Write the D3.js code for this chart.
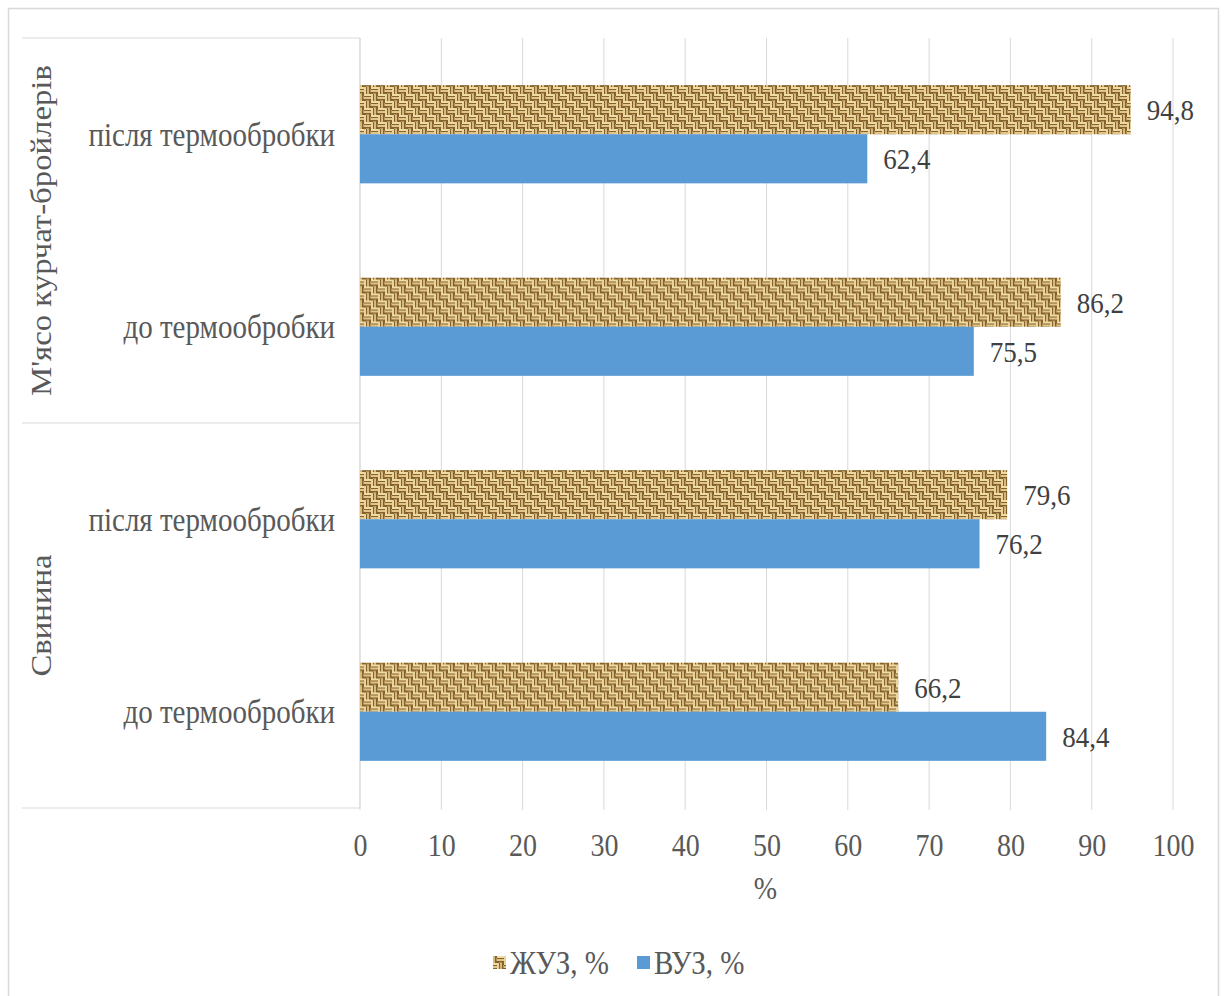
<!DOCTYPE html>
<html>
<head>
<meta charset="utf-8">
<script src="https://cdn.jsdelivr.net/npm/d3@7"></script>
<style>
  body { margin: 0; background: #fff; }
</style>
</head>
<body>
<svg id="chart" width="1227" height="996"></svg>
<script>
// chart data
const groups = ["М'ясо курчат-бройлерів", "Свинина"];
const categories = ["після термообробки", "до термообробки", "після термообробки", "до термообробки"];
const zhuz = [94.8, 86.2, 79.6, 66.2];   // ЖУЗ, %
const vuz = [62.4, 75.5, 76.2, 84.4];    // ВУЗ, %
const seriesNames = ["ЖУЗ, %", "ВУЗ, %"];
const xTicks = [0, 10, 20, 30, 40, 50, 60, 70, 80, 90, 100];

const FONT = "'Liberation Serif', 'Times New Roman', serif";
const STRETCH = 1.13;   // the original picture is a bit taller than wide

const svg = d3.select("#chart");

// stretch a text vertically around its own anchor point
function stretch(sel) {
    sel.attr("transform", function() {
        const yy = +d3.select(this).attr("y") || 0;
        return "translate(0," + yy + ") scale(1," + STRETCH + ") translate(0," + (-yy) + ")";
    });
}

// outer frame
svg.append("rect")
    .attr("x", 8.5).attr("y", 8.5)
    .attr("width", 1210).attr("height", 1000)
    .attr("fill", "none").attr("stroke", "#d9d9d9").attr("stroke-width", 1.5);

// woven texture for ЖУЗ bars (basket weave)
const defs = svg.append("defs");
const pat = defs.append("pattern")
    .attr("id", "weave")
    .attr("patternUnits", "userSpaceOnUse")
    .attr("width", 14).attr("height", 14);
pat.append("rect").attr("width", 14).attr("height", 14).attr("fill", "#83622d");
[[0, 0], [7, 7]].forEach(function(c) {
    pat.append("rect").attr("x", c[0]).attr("y", c[1]).attr("width", 7).attr("height", 2).attr("fill", "#f0dba4");
    pat.append("rect").attr("x", c[0]).attr("y", c[1] + 3).attr("width", 7).attr("height", 2).attr("fill", "#e2c689");
    pat.append("rect").attr("x", c[0] + 2).attr("y", c[1] + 6).attr("width", 3).attr("height", 1).attr("fill", "#b8955a");
});
[[7, 0], [0, 7]].forEach(function(c) {
    pat.append("rect").attr("x", c[0]).attr("y", c[1]).attr("width", 2).attr("height", 7).attr("fill", "#ead49c");
    pat.append("rect").attr("x", c[0] + 3).attr("y", c[1]).attr("width", 2).attr("height", 7).attr("fill", "#d6b97c");
    pat.append("rect").attr("x", c[0] + 6).attr("y", c[1] + 2).attr("width", 1).attr("height", 3).attr("fill", "#b8955a");
});

const margin = { left: 360, right: 1173, top: 38, bottom: 808 };

const x = d3.scaleLinear().domain([0, 100]).range([margin.left, margin.right]);
const y = d3.scaleBand().domain(d3.range(categories.length)).range([margin.top, margin.bottom]);
const inner = d3.scaleBand().domain([0, 1]).range([0, y.bandwidth()]).paddingOuter(0.96);

// vertical gridlines
svg.append("g")
    .selectAll("line")
    .data(xTicks)
    .enter()
    .append("line")
    .attr("x1", d => x(d)).attr("x2", d => x(d))
    .attr("y1", margin.top).attr("y2", margin.bottom + 2)
    .attr("stroke", "#d9d9d9").attr("stroke-width", 1);

// category box lines on the left
const boxG = svg.append("g").attr("stroke", "#d9d9d9").attr("stroke-width", 1);
[margin.top, y(2), margin.bottom].forEach(function(yy) {
    boxG.append("line").attr("x1", 22).attr("x2", margin.left).attr("y1", yy).attr("y2", yy);
});
boxG.append("line").attr("x1", margin.left).attr("x2", margin.left).attr("y1", margin.top).attr("y2", margin.bottom);

// x axis
const xAxis = svg.append("g")
    .attr("transform", "translate(0," + margin.bottom + ")")
    .call(d3.axisBottom(x).tickValues(xTicks).tickSize(0).tickPadding(37));
xAxis.select(".domain").remove();
xAxis.selectAll("text")
    .attr("dy", "0.35em")
    .style("font-family", FONT)
    .style("font-size", "28px")
    .style("fill", "#595959")
    .call(stretch);

svg.append("text")
    .attr("x", (margin.left + margin.right) / 2 - 1)
    .attr("y", 888)
    .attr("dy", "0.35em")
    .attr("text-anchor", "middle")
    .style("font-family", FONT)
    .style("font-size", "28px")
    .style("fill", "#595959")
    .text("%")
    .call(stretch);

// bars
const rows = categories.map(function(c, i) { return { i: i, vals: [zhuz[i], vuz[i]] }; });
const rowG = svg.append("g")
    .selectAll("g")
    .data(rows)
    .enter()
    .append("g")
    .attr("transform", d => "translate(0," + y(d.i) + ")");

rowG.selectAll("rect")
    .data(d => d.vals.map((v, k) => ({ v: v, k: k })))
    .enter()
    .append("rect")
    .attr("x", x(0))
    .attr("y", d => inner(d.k))
    .attr("width", d => x(d.v) - x(0))
    .attr("height", inner.bandwidth())
    .attr("fill", d => d.k === 0 ? "url(#weave)" : "#5b9bd5");

rowG.selectAll("text.val")
    .data(d => d.vals.map((v, k) => ({ v: v, k: k })))
    .enter()
    .append("text")
    .attr("class", "val")
    .attr("x", d => x(d.v) + 16)
    .attr("y", d => inner(d.k) + inner.bandwidth() / 2)
    .attr("dy", "0.35em")
    .style("font-family", FONT)
    .style("font-size", "27px")
    .style("fill", "#404040")
    .text(d => d3.format(".1f")(d.v).replace(".", ","))
    .call(stretch);

// category labels
svg.append("g")
    .selectAll("text")
    .data(categories)
    .enter()
    .append("text")
    .attr("x", 335)
    .attr("y", (d, i) => y(i) + y.bandwidth() / 2)
    .attr("dy", "0.35em")
    .attr("text-anchor", "end")
    .style("font-family", FONT)
    .style("font-size", "29px")
    .style("fill", "#595959")
    .text(d => d)
    .call(stretch);

// group labels (rotated, stretched along the page height)
svg.append("g")
    .selectAll("text")
    .data(groups)
    .enter()
    .append("text")
    .attr("transform", (d, g) => {
        const cy = (y(g * 2) + y(g * 2 + 1) + y.bandwidth()) / 2;
        return "translate(41," + cy + ") scale(1," + STRETCH + ") rotate(-90)";
    })
    .attr("dy", "0.35em")
    .attr("text-anchor", "middle")
    .style("font-family", FONT)
    .style("font-size", "29px")
    .style("fill", "#595959")
    .text(d => d);

// legend
const legend = svg.append("g").attr("transform", "translate(0,963)");
const legendX = [493, 637];
seriesNames.forEach(function(name, k) {
    legend.append("rect")
        .attr("x", legendX[k]).attr("y", -7)
        .attr("width", 13).attr("height", 13)
        .attr("fill", k === 0 ? "url(#weave)" : "#5b9bd5");
    legend.append("text")
        .attr("x", legendX[k] + 17)
        .attr("y", 0)
        .attr("dy", "0.35em")
        .style("font-family", FONT)
        .style("font-size", "29px")
        .style("fill", "#595959")
        .text(name)
        .call(stretch);
});
</script>
</body>
</html>
